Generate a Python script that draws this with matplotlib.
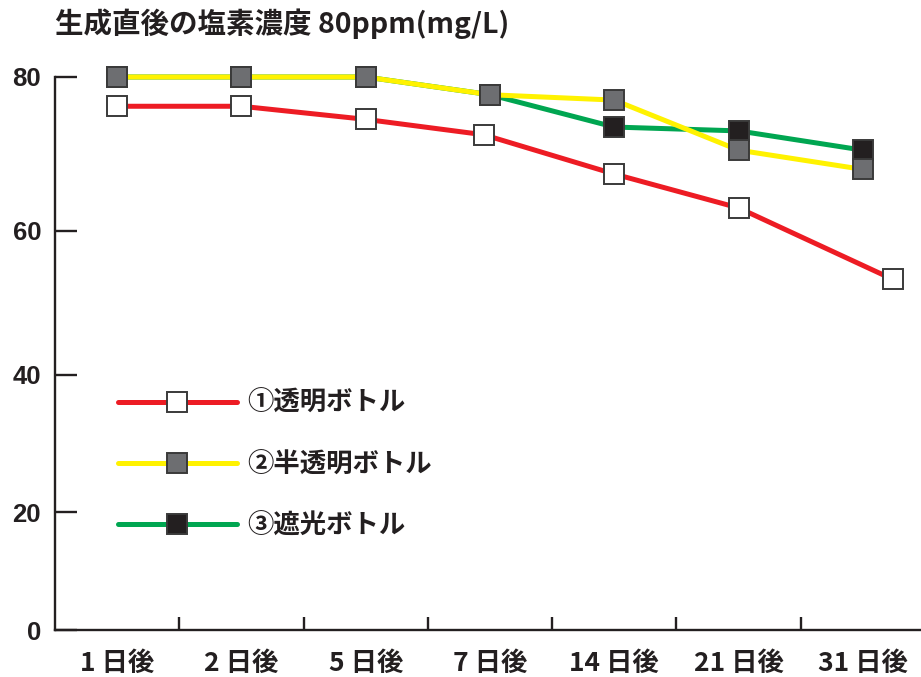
import numpy as np
import matplotlib
matplotlib.use('Agg')
import matplotlib.pyplot as plt
from matplotlib.lines import Line2D

plt.rcParams['font.family'] = ['Noto Sans CJK JP', 'DejaVu Sans']

# ---- data ----
categories = ['1 日後', '2 日後', '5 日後', '7 日後', '14 日後', '21 日後', '31 日後']
clear_vals = [76.2, 76.2, 74.5, 72.5, 67.4, 63.0, 53.3]
semi_vals = [80.0, 80.0, 80.0, 77.7, 77.0, 70.5, 68.0]
shade_vals = [80.0, 80.0, 80.0, 77.7, 73.5, 73.0, 70.5]
clear_pos = [0, 1, 2, 2.95, 4, 5, 6.24]
labels = ['①透明ボトル', '②半透明ボトル', '③遮光ボトル']
yticks = [0, 20, 40, 60, 80]
title = '生成直後の塩素濃度 80ppm(mg/L)'

# ---- non-linear vertical scale of the original ----
knots = np.array([0, 20, 40, 60, 80], float)
pix = np.array([0, 118, 255, 399, 553], float)

def fwd(v):
    v = np.asarray(v, float)
    out = np.interp(v, knots, pix)
    hi = (pix[-1] - pix[-2]) / (knots[-1] - knots[-2])
    lo = (pix[1] - pix[0]) / (knots[1] - knots[0])
    out = np.where(v > knots[-1], pix[-1] + (v - knots[-1]) * hi, out)
    out = np.where(v < knots[0], v * lo, out)
    return out

def inv(p):
    p = np.asarray(p, float)
    out = np.interp(p, pix, knots)
    hi = (pix[-1] - pix[-2]) / (knots[-1] - knots[-2])
    lo = (pix[1] - pix[0]) / (knots[1] - knots[0])
    out = np.where(p > pix[-1], knots[-1] + (p - pix[-1]) / hi, out)
    out = np.where(p < pix[0], p / lo, out)
    return out

RED = '#ed1c24'
YEL = '#fff200'
GRN = '#00a651'
GRAY = '#6d6e71'
BLK = '#231f20'
EDGE = '#3a3a3a'
TXT = '#231f20'

fig = plt.figure(figsize=(9.21, 6.77), dpi=100)
ax = fig.add_axes([55 / 921, 47 / 677, (925 - 55) / 921, 553 / 677])
ax.set_yscale('function', functions=(fwd, inv))

x = np.arange(len(categories))
lw = 3.6
ms = 14.4
mew = 1.4

ax.plot(clear_pos, clear_vals, color=RED, lw=lw, zorder=2, clip_on=False, solid_capstyle='butt')
ax.plot(x, shade_vals, color=GRN, lw=lw, zorder=3, clip_on=False, solid_capstyle='butt')
ax.plot(x, semi_vals, color=YEL, lw=lw, zorder=4, clip_on=False, solid_capstyle='butt')
ax.plot(x, shade_vals, ls='none', marker='s', ms=ms, mfc=BLK, mec=EDGE, mew=mew, zorder=5, clip_on=False)
ax.plot(x, semi_vals, ls='none', marker='s', ms=ms, mfc=GRAY, mec=EDGE, mew=mew, zorder=6, clip_on=False)
ax.plot(clear_pos, clear_vals, ls='none', marker='s', ms=ms, mfc='white', mec=EDGE, mew=mew, zorder=7, clip_on=False)

ax.set_xlim(-0.5, 6.5)
ax.set_ylim(0, 80)

for s in ['top', 'right']:
    ax.spines[s].set_visible(False)
for s in ['left', 'bottom']:
    ax.spines[s].set_linewidth(1.7)
    ax.spines[s].set_color(TXT)

ax.set_yticks(yticks)
ax.set_yticklabels([str(v) for v in yticks], fontsize=18.5, fontweight='bold',
                   family=['Liberation Sans'], color=TXT)
ax.tick_params(axis='y', direction='in', length=16, width=1.7, color=TXT, pad=10)

ax.set_xticks(x[:-1] + 0.5)
ax.set_xticklabels([])
ax.set_xticks(x, minor=True)
ax.set_xticklabels(categories, minor=True, fontsize=19, fontweight='bold', color=TXT)
ax.tick_params(axis='x', which='major', direction='in', length=9.4, width=1.7, color=TXT)
ax.tick_params(axis='x', which='minor', length=0, pad=14)

handles = [
    Line2D([], [], color=RED, lw=lw, marker='s', ms=ms, mfc='white', mec=EDGE, mew=mew, solid_capstyle='round'),
    Line2D([], [], color=YEL, lw=lw, marker='s', ms=ms, mfc=GRAY, mec=EDGE, mew=mew, solid_capstyle='round'),
    Line2D([], [], color=GRN, lw=lw, marker='s', ms=ms, mfc=BLK, mec=EDGE, mew=mew, solid_capstyle='round'),
]
leg = fig.legend(handles, labels, loc='upper left', bbox_to_anchor=(118 / 921, 1 - 390 / 677),
                 frameon=False, numpoints=1, handlelength=4.5, handletextpad=0.4,
                 labelspacing=1.3, borderpad=0, borderaxespad=0,
                 prop={'family': ['Noto Sans CJK JP', 'DejaVu Sans'], 'weight': 'bold', 'size': 19})
for t in leg.get_texts():
    t.set_color(TXT)

fig.text(55 / 921, 1 - 24 / 677, title, fontsize=20.5, fontweight='bold', color=TXT,
         va='center', ha='left')

fig.savefig('out.png', dpi=100)
